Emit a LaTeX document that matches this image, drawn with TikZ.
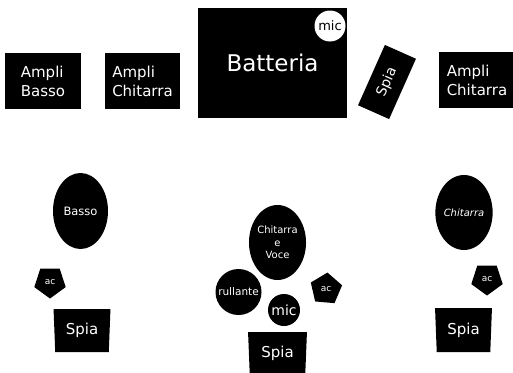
\documentclass[tikz,border=0pt]{standalone}
\usepackage{fontspec}
\setmainfont{DejaVu Sans}
\usetikzlibrary{shapes.geometric}
\newcommand{\fsz}[1]{\fontsize{#1}{#1*1.25}\selectfont}
\tikzset{
  blk/.style={fill=black, text=white, inner sep=0pt},
  boxn/.style={blk, rectangle, minimum width=#1},
  ell/.style={blk, ellipse},
  pent/.style={blk, regular polygon, regular polygon sides=5, minimum size=33pt, font=\fontsize{9}{10}\selectfont},
  trap/.style={blk, trapezium, trapezium stretches=true, shape border rotate=180, trapezium left angle=86, trapezium right angle=86, font=\fontsize{15}{18}\selectfont},
}
\begin{document}
\begin{tikzpicture}[x=1pt,y=-1pt]
\useasboundingbox (0,0) rectangle (513,372);
\clip (0,0) rectangle (513,372);
% top row
\node[boxn=76pt, minimum height=56pt, align=left, font=\fontsize{15}{19}\selectfont] (ampB) at (43,81) {Ampli\\Basso};
\node[boxn=75pt, minimum height=56pt, align=left, font=\fontsize{15}{19}\selectfont] (ampC) at (142.5,81) {Ampli\\Chitarra};
\node[boxn=149pt, minimum height=110pt, font=\fontsize{23}{26}\selectfont] (batt) at (272.5,63) {Batteria};
\node[circle, fill=white, text=black, minimum size=31pt, inner sep=0pt, font=\fontsize{13}{14}\selectfont] (micB) at (330,26) {mic};
\node[boxn=66pt, minimum height=34pt, rotate=66, font=\fontsize{14}{16}\selectfont] (spiaT) at (387,82) {Spia};
\node[boxn=76pt, minimum height=56pt, align=left, font=\fontsize{15}{19}\selectfont] (ampC2) at (477,80) {Ampli\\Chitarra};
% left musician
\node[ell, minimum width=55pt, minimum height=76pt, font=\fontsize{11.5}{13}\selectfont] (basso) at (80.5,211) {Basso};
\node[pent, regular polygon rotate=180] (acL) at (50,282) {ac};
\node[trap, minimum width=57pt, minimum height=43pt] (spiaL) at (82,330.5) {Spia};
% centre musician
\node[ell, minimum width=49pt, minimum height=75pt, align=center, font=\fontsize{10}{12.5}\selectfont] (chitV) at (277.5,242.5) {Chitarra\\e\\Voce};
\node[blk, circle, minimum size=46pt, font=\fontsize{10.5}{12}\selectfont] (rull) at (238.5,292) {rullante};
\node[blk, circle, minimum size=32pt, font=\fontsize{14}{16}\selectfont] (micC) at (284,310) {mic};
\node[pent, regular polygon rotate=-5] (acC) at (326,289) {ac};
\node[trap, minimum width=59pt, minimum height=43pt] (spiaC) at (277.5,353.5) {Spia};
% right musician
\node[ell, minimum width=54pt, minimum height=75pt, font=\fontsize{10}{12}\selectfont\itshape] (chitR) at (464,212.5) {Chitarra};
\node[pent, regular polygon rotate=180] (acR) at (487,279) {ac};
\node[trap, minimum width=57pt, minimum height=44pt] (spiaR) at (463.5,330) {Spia};
\end{tikzpicture}
\end{document}
